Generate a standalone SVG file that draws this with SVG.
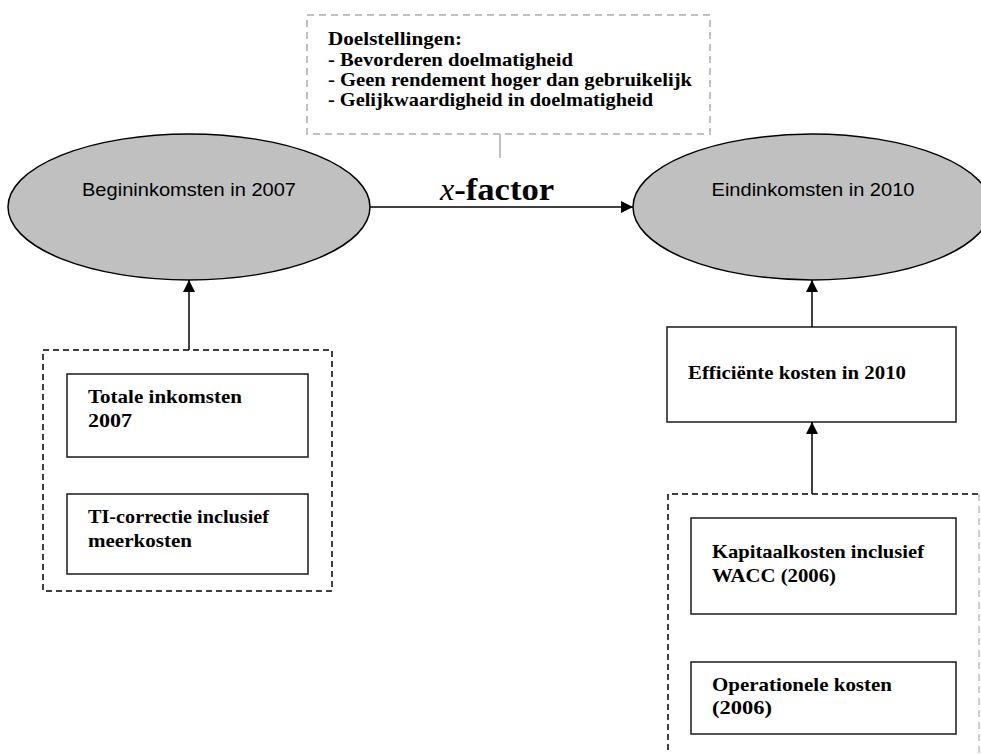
<svg xmlns="http://www.w3.org/2000/svg" width="981" height="754" viewBox="0 0 981 754">
<defs>
<marker id="ah" viewBox="0 0 10 10" refX="10" refY="5" markerWidth="12" markerHeight="12" markerUnits="userSpaceOnUse" orient="auto">
<path d="M0,0 L10,5 L0,10 z" fill="#000"/>
</marker>
<style>
.ell{fill:#c0c0c0;stroke:#000;stroke-width:1.5}
.box{fill:#fff;stroke:#1a1a1a;stroke-width:1.5}
.dash{fill:none;stroke:#000;stroke-width:1.5;stroke-dasharray:6 4}
.gdash{fill:none;stroke:#c0c0c0;stroke-width:2;stroke-dasharray:7 5}
.edge{fill:none;stroke:#000;stroke-width:1.5}
.sans{font-family:"Liberation Sans","DejaVu Sans",sans-serif;font-size:18px;fill:#000}
.ser{font-family:"Liberation Serif","DejaVu Serif",serif;font-weight:bold;font-size:19px;fill:#000}
</style>
</defs>
<rect width="981" height="754" fill="#fff"/>

<g id="doelstellingen">
<rect class="gdash" x="307" y="15" width="403" height="119"/>
<text class="ser" x="328" y="45" textLength="134" lengthAdjust="spacingAndGlyphs">Doelstellingen:</text>
<text class="ser" x="328" y="66" textLength="245" lengthAdjust="spacingAndGlyphs">- Bevorderen doelmatigheid</text>
<text class="ser" x="328" y="86" textLength="364" lengthAdjust="spacingAndGlyphs">- Geen rendement hoger dan gebruikelijk</text>
<text class="ser" x="328" y="106" textLength="325" lengthAdjust="spacingAndGlyphs">- Gelijkwaardigheid in doelmatigheid</text>
</g>

<g id="begininkomsten">
<ellipse class="ell" cx="189" cy="207" rx="181" ry="73"/>
<text class="sans" x="189" y="196" text-anchor="middle" textLength="214" lengthAdjust="spacingAndGlyphs">Begininkomsten in 2007</text>
</g>

<g id="eindinkomsten">
<ellipse class="ell" cx="812" cy="207" rx="179" ry="73"/>
<text class="sans" x="813" y="196" text-anchor="middle" textLength="203" lengthAdjust="spacingAndGlyphs">Eindinkomsten in 2010</text>
</g>

<g id="groep-links">
<rect class="dash" x="43" y="350" width="289" height="241"/>
</g>
<g id="totale-inkomsten">
<rect class="box" x="67" y="374" width="241" height="83"/>
<text class="ser" x="88" y="403" textLength="154" lengthAdjust="spacingAndGlyphs">Totale inkomsten</text>
<text class="ser" x="88" y="427" textLength="44" lengthAdjust="spacingAndGlyphs">2007</text>
</g>
<g id="ti-correctie">
<rect class="box" x="67" y="494" width="241" height="80"/>
<text class="ser" x="88" y="523" textLength="181" lengthAdjust="spacingAndGlyphs">TI-correctie inclusief</text>
<text class="ser" x="88" y="547" textLength="104" lengthAdjust="spacingAndGlyphs">meerkosten</text>
</g>

<g id="efficiente-kosten">
<rect class="box" x="667" y="327" width="289" height="95"/>
<text class="ser" x="688" y="379" textLength="218" lengthAdjust="spacingAndGlyphs">Efficiënte kosten in 2010</text>
</g>

<g id="groep-rechts">
<path class="dash" d="M668,760 L668,494 L980,494"/>
<path class="gdash" d="M979,494 L979,760" style="stroke-width:1.5"/>
</g>
<g id="kapitaalkosten">
<rect class="box" x="691" y="518" width="265" height="96"/>
<text class="ser" x="712" y="558" textLength="212" lengthAdjust="spacingAndGlyphs">Kapitaalkosten inclusief</text>
<text class="ser" x="712" y="582" textLength="124" lengthAdjust="spacingAndGlyphs">WACC (2006)</text>
</g>
<g id="operationele-kosten">
<rect class="box" x="691" y="662" width="265" height="72"/>
<text class="ser" x="712" y="691" textLength="180" lengthAdjust="spacingAndGlyphs">Operationele kosten</text>
<text class="ser" x="712" y="714" textLength="60" lengthAdjust="spacingAndGlyphs">(2006)</text>
</g>

<g id="connectors">
<line x1="500" y1="134" x2="500" y2="158" stroke="#c0c0c0" stroke-width="2"/>
<line class="edge" x1="370" y1="207" x2="633" y2="207" marker-end="url(#ah)"/>
<line class="edge" x1="189" y1="350" x2="189" y2="280" marker-end="url(#ah)"/>
<line class="edge" x1="812" y1="327" x2="812" y2="280" marker-end="url(#ah)"/>
<line class="edge" x1="812" y1="494" x2="812" y2="422" marker-end="url(#ah)"/>
<text x="440" y="200" font-family="Liberation Serif, serif" font-size="32" font-weight="bold" fill="#000"><tspan font-style="italic" font-weight="normal">x</tspan><tspan textLength="100" lengthAdjust="spacingAndGlyphs">-factor</tspan></text>
</g>
</svg>
